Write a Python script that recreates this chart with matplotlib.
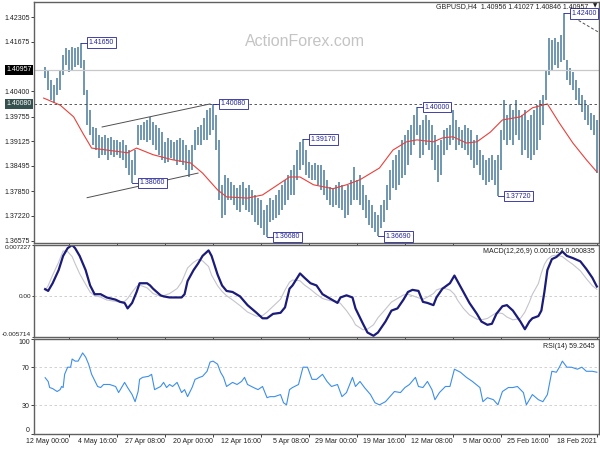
import matplotlib
matplotlib.use('Agg')
import matplotlib.pyplot as plt
from matplotlib.transforms import blended_transform_factory

plt.rcParams['font.family'] = ['Liberation Sans', 'DejaVu Sans']

# GBPUSD H4, oldest bar first (18 Feb 2021). one entry every 2 H4 bars
bar_step = 2
highs = [1.3967, 1.3980, 1.3985, 1.4005, 1.4018, 1.4031, 1.4049, 1.4069, 1.4090, 1.4100,
         1.4121, 1.4240, 1.4184, 1.4167, 1.4177, 1.4172, 1.4177, 1.4095, 1.4031, 1.4018,
         1.4005, 1.3993, 1.3980, 1.3967, 1.3993, 1.3980, 1.3993, 1.4018, 1.3993, 1.4005,
         1.3980, 1.4018, 1.3941, 1.3878, 1.3865, 1.3878, 1.3870, 1.3865, 1.3878, 1.3890,
         1.3929, 1.3916, 1.3941, 1.3947, 1.3954, 1.3941, 1.3949, 1.3967, 1.3993, 1.3954,
         1.3947, 1.3941, 1.3916, 1.3903, 1.3929, 1.3954, 1.3967, 1.3980, 1.3967, 1.3954,
         1.4000, 1.3980, 1.3954, 1.3941, 1.3929, 1.3916, 1.3890, 1.3878, 1.3865, 1.3839,
         1.3801, 1.3762, 1.3750, 1.3724, 1.3732, 1.3750, 1.3762, 1.3775, 1.3801, 1.3826,
         1.3814, 1.3847, 1.3814, 1.3801, 1.3788, 1.3801, 1.3808, 1.3801, 1.3793, 1.3796,
         1.3814, 1.3839, 1.3852, 1.3852, 1.3857, 1.3852, 1.3860, 1.3890, 1.3917, 1.3911,
         1.3890, 1.3852, 1.3839, 1.3826, 1.3814, 1.3801, 1.3788, 1.3775, 1.3762, 1.3767,
         1.3750, 1.3737, 1.3762, 1.3767, 1.3775, 1.3788, 1.3801, 1.3793, 1.3808, 1.3801,
         1.3793, 1.3801, 1.3808, 1.3819, 1.3826, 1.3801, 1.3916, 1.3980, 1.4008, 1.3998,
         1.3993, 1.3972, 1.3954, 1.3949, 1.3941, 1.3903, 1.3890, 1.3903, 1.3916, 1.3921,
         1.3916, 1.3911, 1.3916, 1.3921, 1.3911, 1.3936, 1.3947, 1.3954, 1.3962, 1.3975,
         1.3967, 1.3962, 1.3954, 1.3954, 1.3890, 1.3865, 1.3890, 1.3903, 1.3916, 1.3911,
         1.3916, 1.3916, 1.3924, 1.3921, 1.3929, 1.3924, 1.3929, 1.3947, 1.3949, 1.3993,
         1.4044, 1.4121, 1.4165, 1.4154, 1.4151, 1.4154, 1.4146, 1.4151, 1.4133, 1.4095,
         1.4074, 1.4057, 1.4069, 1.4095, 1.4103]
lows = [1.3831, 1.3929, 1.3941, 1.3954, 1.3967, 1.3988, 1.4005, 1.4018, 1.4044, 1.4057,
        1.4069, 1.4121, 1.4115, 1.4100, 1.4108, 1.4095, 1.4082, 1.4018, 1.3954, 1.3916,
        1.3890, 1.3878, 1.3865, 1.3870, 1.3890, 1.3878, 1.3916, 1.3929, 1.3903, 1.3916,
        1.3903, 1.3916, 1.3839, 1.3772, 1.3801, 1.3814, 1.3808, 1.3801, 1.3814, 1.3826,
        1.3852, 1.3844, 1.3865, 1.3878, 1.3890, 1.3895, 1.3903, 1.3890, 1.3916, 1.3903,
        1.3890, 1.3878, 1.3826, 1.3808, 1.3839, 1.3865, 1.3890, 1.3903, 1.3878, 1.3870,
        1.3929, 1.3903, 1.3878, 1.3852, 1.3826, 1.3819, 1.3801, 1.3788, 1.3793, 1.3762,
        1.3737, 1.3706, 1.3691, 1.3669, 1.3681, 1.3691, 1.3698, 1.3716, 1.3737, 1.3750,
        1.3762, 1.3762, 1.3750, 1.3724, 1.3716, 1.3737, 1.3742, 1.3750, 1.3745, 1.3750,
        1.3762, 1.3775, 1.3788, 1.3801, 1.3814, 1.3814, 1.3819, 1.3826, 1.3852, 1.3839,
        1.3814, 1.3775, 1.3775, 1.3762, 1.3750, 1.3737, 1.3724, 1.3716, 1.3711, 1.3706,
        1.3668, 1.3673, 1.3691, 1.3698, 1.3706, 1.3724, 1.3732, 1.3737, 1.3750, 1.3732,
        1.3737, 1.3750, 1.3762, 1.3762, 1.3724, 1.3716, 1.3762, 1.3890, 1.3941, 1.3929,
        1.3916, 1.3916, 1.3903, 1.3903, 1.3890, 1.3839, 1.3821, 1.3839, 1.3852, 1.3860,
        1.3852, 1.3865, 1.3870, 1.3860, 1.3857, 1.3865, 1.3878, 1.3890, 1.3903, 1.3916,
        1.3911, 1.3916, 1.3916, 1.3903, 1.3826, 1.3806, 1.3826, 1.3844, 1.3865, 1.3870,
        1.3878, 1.3872, 1.3878, 1.3865, 1.3878, 1.3878, 1.3870, 1.3890, 1.3903, 1.3929,
        1.3954, 1.4031, 1.4100, 1.4108, 1.4103, 1.4095, 1.4090, 1.4108, 1.4082, 1.4044,
        1.4031, 1.4011, 1.4018, 1.4044, 1.4074]

# moving average (red), read at a few bars
ma_idx = [0, 7, 16, 25, 33, 43, 51, 63, 71, 80, 87, 96, 103, 109, 120, 127, 136, 145, 158, 167,
          176, 189, 198, 205, 223, 233, 247, 253, 263, 271, 283, 296, 307, 313, 327, 337, 343, 349, 358, 369]
ma_val = [1.3834, 1.3865, 1.3908, 1.3959, 1.4008, 1.3998, 1.3975, 1.3967, 1.3936, 1.3911,
          1.3908, 1.3924, 1.3921, 1.3911, 1.3916, 1.3911, 1.3890, 1.3844, 1.3814, 1.3801,
          1.3791, 1.3801, 1.3821, 1.3821, 1.3775, 1.3767, 1.3770, 1.3788, 1.3831, 1.3857,
          1.3865, 1.3878, 1.3895, 1.3883, 1.3890, 1.3895, 1.3934, 1.3975, 1.4005, 1.4023]

# MACD(12,26,9)
macd_idx = [0, 3, 7, 11, 16, 20, 23, 27, 30, 33, 35, 37, 39, 43, 45, 48, 51, 56, 60, 63,
            67, 70, 73, 77, 80, 85, 89, 93, 95, 98, 103, 107, 109, 113, 116, 119, 123, 126, 129, 133,
            137, 141, 146, 149, 153, 156, 161, 163, 167, 171, 173, 178, 183, 187, 191, 195, 198, 203, 205, 208,
            211, 216, 220, 223, 227, 233, 238, 243, 247, 250, 253, 257, 259, 263, 266, 269, 273, 275, 277, 280,
            285, 289, 291, 296, 298, 300, 305, 307, 310, 313, 315, 318, 321, 327, 331, 335, 338, 341, 345, 348,
            350, 353, 356, 359, 363, 366, 368]
macd_main = [0.00139, 0.00262, 0.00385, 0.00493, 0.00539, 0.00570, 0.00631, 0.00554, 0.00524, 0.00370,
             0.00062, -0.00200, -0.00277, -0.00308, -0.00354, -0.00462, -0.00354, -0.00200, -0.00123, -0.00139,
             -0.00246, -0.00385, -0.00400, -0.00354, -0.00246, -0.00092, 0.00062, 0.00216, 0.00293, 0.00185,
             0.00108, -0.00015, -0.00123, -0.00092, -0.00077, 0.00077, 0.00092, 0.00062, -0.00046, -0.00169,
             -0.00200, -0.00354, -0.00508, -0.00554, -0.00508, -0.00385, -0.00169, -0.00015, 0.00015, -0.00015,
             -0.00092, -0.00031, 0.00031, 0.00154, 0.00185, 0.00262, 0.00323, 0.00154, 0.00108, -0.00154,
             -0.00231, -0.00246, -0.00308, -0.00308, -0.00231, -0.00123, 0.0, 0.00062, 0.00077, 0.00154,
             0.00308, 0.00570, 0.00647, 0.00570, 0.00462, 0.00370, 0.00216, 0.00031, -0.00015, -0.00015,
             -0.00015, 0.0, 0.00015, 0.00108, 0.00154, 0.00185, 0.00185, 0.00062, -0.00092, -0.00169,
             -0.00092, -0.00077, -0.00046, -0.00015, 0.00031, 0.00031, 0.00154, 0.00370, 0.00570, 0.00678,
             0.00724, 0.00678, 0.00570, 0.00370, 0.00185, 0.00077, 0.00102]
macd_signal = [0.00100, 0.00150, 0.00250, 0.00360, 0.00450, 0.00510, 0.00560, 0.00580, 0.00570, 0.00520,
               0.00450, 0.00330, 0.00180, 0.00030, -0.00080, -0.00220, -0.00310, -0.00330, -0.00290, -0.00240,
               -0.00230, -0.00270, -0.00310, -0.00330, -0.00320, -0.00260, -0.00170, -0.00050, 0.00030, 0.00090,
               0.00120, 0.00090, 0.00040, -0.00010, -0.00040, -0.00020, 0.00010, 0.00030, 0.00020, -0.00030,
               -0.00080, -0.00180, -0.00300, -0.00400, -0.00460, -0.00470, -0.00400, -0.00320, -0.00200, -0.00100,
               -0.00070, -0.00060, -0.00030, 0.00030, 0.00100, 0.00160, 0.00220, 0.00230, 0.00200, 0.00090,
               -0.00040, -0.00140, -0.00220, -0.00270, -0.00280, -0.00220, -0.00130, -0.00050, 0.00010, 0.00070,
               0.00150, 0.00300, 0.00420, 0.00500, 0.00520, 0.00480, 0.00400, 0.00300, 0.00200, 0.00110,
               0.00040, 0.00010, 0.00000, 0.00040, 0.00080, 0.00120, 0.00160, 0.00140, 0.00060, -0.00030,
               -0.00070, -0.00080, -0.00070, -0.00050, -0.00010, 0.00010, 0.00060, 0.00170, 0.00320, 0.00460,
               0.00560, 0.00630, 0.00640, 0.00480, 0.00300, 0.00150, 0.00084]

# RSI(14)
rsi_idx = [0, 3, 7, 10, 13, 17, 20, 23, 25, 27, 30, 33, 36, 39, 43, 47, 49, 53, 56, 59,
           63, 66, 69, 73, 76, 78, 83, 87, 91, 95, 98, 101, 105, 108, 110, 113, 116, 119, 121, 125,
           128, 131, 135, 138, 141, 145, 148, 151, 155, 158, 161, 163, 167, 170, 173, 177, 180, 183, 187, 190,
           193, 196, 199, 203, 205, 207, 209, 211, 215, 218, 220, 223, 226, 229, 233, 235, 237, 240, 243, 247,
           249, 251, 253, 256, 258, 260, 263, 265, 268, 270, 273, 275, 277, 280, 283, 285, 287, 289, 291, 295,
           297, 299, 303, 305, 306, 308, 310, 313, 315, 317, 319, 321, 325, 329, 331, 333, 337, 339, 341, 343,
           346, 348, 350, 351, 353, 355, 356, 357, 358, 360, 363, 365, 366, 368]
rsi_val = [65.0, 66.0, 66.0, 70.3, 68.2, 70.3, 70.3, 76.7, 70.3, 65.0, 66.0, 41.5, 34.0, 36.1, 41.5, 30.7, 43.6, 50.0, 48.9, 48.9,
           44.7, 30.7, 36.1, 38.2, 34.0, 48.9, 55.3, 59.6, 65.0, 68.2, 50.0, 50.0, 43.6, 36.1, 46.7, 55.3, 48.9, 50.0, 59.6, 52.1,
           48.9, 43.6, 44.7, 39.3, 34.0, 30.7, 32.9, 41.5, 48.9, 55.3, 50.0, 59.6, 43.6, 39.3, 52.1, 50.0, 55.3, 62.8, 57.5, 57.5,
           70.3, 70.3, 52.1, 48.9, 46.7, 30.7, 32.9, 41.5, 39.3, 39.3, 38.2, 50.0, 46.7, 48.9, 52.1, 59.6, 55.3, 52.1, 54.3, 50.0,
           59.6, 65.0, 73.5, 76.7, 75.7, 66.0, 60.7, 59.6, 57.5, 48.9, 39.3, 46.7, 43.6, 54.3, 50.0, 52.1, 48.9, 54.3, 50.0, 46.7,
           62.8, 60.7, 59.6, 57.5, 44.7, 34.0, 41.5, 48.9, 54.3, 48.9, 43.6, 50.0, 52.1, 52.1, 48.9, 50.0, 62.8, 73.5, 81.0, 85.3,
           76.7, 76.7, 78.9, 70.3, 70.3, 62.8, 48.9, 50.0, 46.7, 44.7, 47.8, 48.9, 55.3, 59.26]

# swing high / low labels (H4 bar index, price)
swing_idx = [22, 66, 120, 146, 196, 220, 256, 310, 344]
swing_price = [1.42400, 1.37720, 1.40000, 1.36690, 1.39170, 1.36680, 1.40080, 1.38060, 1.41650]

# drawn lines: channel + line from the top
channel_upper = ([330, 258], [1.3949, 1.4008])
channel_lower = ([340, 266], [1.3768, 1.3831])
top_line = ([15, -1], [1.4228, 1.4192])

price_ticks = [1.42305, 1.41675, 1.40400, 1.39755, 1.39125, 1.38495, 1.37850, 1.37220, 1.36575]
bid_price = 1.40957
level_price = 1.40080

date_ticks = [0, 32, 64, 96, 128, 160, 192, 224, 256, 288, 320, 352]
date_labels = ['18 Feb 2021', '25 Feb 16:00', '5 Mar 00:00', '12 Mar 08:00', '19 Mar 16:00',
               '29 Mar 00:00', '5 Apr 08:00', '12 Apr 16:00', '20 Apr 00:00', '27 Apr 08:00',
               '4 May 16:00', '12 May 00:00']

bar_col = '#5685a2'
navy = '#23239a'
fs = 5

fig = plt.figure(figsize=(6, 4.5), dpi=100)
ax = fig.add_axes([0.057, 0.46, 0.941, 0.5356])
ax_m = fig.add_axes([0.057, 0.2511, 0.941, 0.2044], sharex=ax)
ax_r = fig.add_axes([0.057, 0.0356, 0.941, 0.2111], sharex=ax)

# price bars
xs = [j * bar_step for j in range(len(highs))]
ax.vlines(xs, lows, highs, color=bar_col, lw=1.2)
ax.plot(ma_idx, ma_val, color='#e8403a', lw=0.8)

ax.axhline(bid_price, color='#c8c8c8', lw=0.9)
ax.axhline(level_price, color='#404040', lw=0.6, ls=(0, (3, 3)))
ax.plot(*channel_upper, color='#505050', lw=0.7)
ax.plot(*channel_lower, color='#505050', lw=0.7)
ax.plot(*top_line, color='#505050', lw=0.7, ls=(0, (3, 2)))

for i, p in zip(swing_idx, swing_price):
    ax.plot([i, i - 5], [p, p], color=navy, lw=0.6)
    ax.text(i - 5, p, f'{p:.5f}', ha='left', va='center', fontsize=fs, color=navy,
            clip_on=True,
            bbox=dict(boxstyle='square,pad=0.25', fc='white', ec=navy, lw=0.6))

ax.text(0.48, 0.834, 'ActionForex.com', transform=ax.transAxes, ha='center', va='center',
        fontsize=11.5, color='#c4c4c4')
ax.text(0.981, 0.983, 'GBPUSD,H4  1.40956 1.41027 1.40846 1.40957', transform=ax.transAxes,
        ha='right', va='center', fontsize=fs, color='#202020')
ax.text(0.993, 0.983, '▼', transform=ax.transAxes, ha='center', va='center',
        fontsize=4, color='#202020', family='DejaVu Sans')

ax.set_ylim(1.3652, 1.4269)
ax.set_yticks(price_ticks, [f'{t:.5f}' for t in price_ticks])
tr = blended_transform_factory(ax.transAxes, ax.transData)
ax.text(-0.004, bid_price, f'{bid_price:.5f}', transform=tr, ha='right', va='center',
        fontsize=fs, color='white', bbox=dict(boxstyle='square,pad=0.2', fc='black', ec='none'))
ax.text(-0.004, level_price, f'{level_price:.5f}', transform=tr, ha='right', va='center',
        fontsize=fs, color='white', bbox=dict(boxstyle='square,pad=0.2', fc='#34504f', ec='none'))

# MACD
ax_m.axhline(0, color='#c8c8c8', lw=0.6, ls=(0, (3, 3)))
ax_m.plot(macd_idx, macd_signal, color='#c4c4cc', lw=0.8)
ax_m.plot(macd_idx, macd_main, color='#1b1b7a', lw=1.6)
ax_m.set_ylim(-0.005714, 0.007227)
ax_m.set_yticks([-0.005714, 0, 0.007227], ['-0.005714', '0.00', '0.007227'])
ax_m.text(0.993, 0.935, 'MACD(12,26,9) 0.001023 0.000835', transform=ax_m.transAxes,
          ha='right', va='center', fontsize=fs, color='#202020')

# RSI
for lvl in (30, 70):
    ax_r.axhline(lvl, color='#d0c8c8', lw=0.6, ls=(0, (3, 3)))
ax_r.plot(rsi_idx, rsi_val, color='#3d8fe8', lw=0.8)
ax_r.set_ylim(0, 100)
ax_r.set_yticks([0, 30, 70, 100], ['0', '30', '70', '100'])
ax_r.text(0.993, 0.916, 'RSI(14) 59.2645', transform=ax_r.transAxes,
          ha='right', va='center', fontsize=fs, color='#202020')

for a in (ax_m, ax_r):
    labs = a.get_yticklabels()
    labs[0].set_va('bottom')
    labs[-1].set_va('top')

ax.set_xlim(375.3, -1.3)
ax_r.set_xticks(date_ticks, date_labels)
for lab in ax_r.get_xticklabels():
    lab.set_ha('right')

for a in (ax, ax_m, ax_r):
    a.tick_params(labelsize=fs, length=2, width=0.6, colors='#202020', pad=1.2)
    for s in a.spines.values():
        s.set_color('#606060')
        s.set_linewidth(1.0)
ax_m.tick_params(axis='y', labelsize=4.6, length=1.5, pad=0.8)
ax.tick_params(labelbottom=False)
ax_m.tick_params(labelbottom=False)

fig.savefig('out.png', dpi=100)
